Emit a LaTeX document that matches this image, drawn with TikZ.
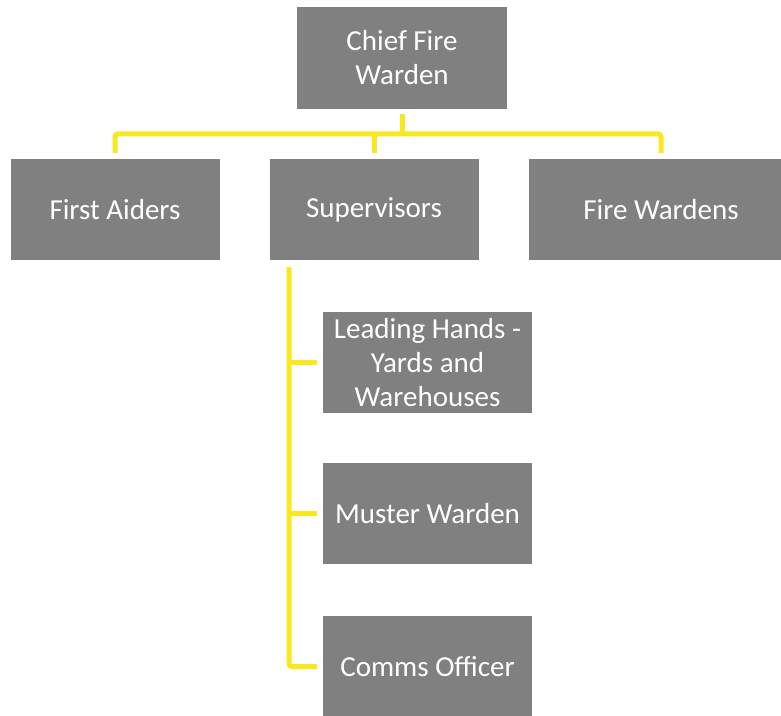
\documentclass[tikz,border=0pt]{standalone}
\usepackage{fontspec}
\setmainfont{Carlito}
\usepackage{tikz}
\usetikzlibrary{positioning}
\definecolor{boxgray}{RGB}{128,128,128}
\definecolor{lineyellow}{RGB}{249,232,32}

\begin{document}
\begin{tikzpicture}[x=1pt,y=-1pt,
    orgbox/.style={fill=boxgray, text=white, inner sep=0pt, align=center,
      minimum width=209pt, minimum height=101pt,
      font=\fontsize{29}{34}\selectfont},
    link/.style={draw=lineyellow, line width=5pt}]
            \useasboundingbox (0,0) rectangle (781,715);

            \node[orgbox, minimum width=210pt, minimum height=102pt] (chief) at (402,58) {Chief Fire\\Warden};
            \node[orgbox] (aiders) at (115,209.5) {First Aiders};
            \node[orgbox, text depth=4pt] (sup) at (374,209.5) {Supervisors};
            \node[orgbox, minimum width=264pt] (wardens) at (661,209.5) {Fire Wardens};

            \node[orgbox] (lead) at (427.5,362.5) {Leading Hands -\\Yards and\\Warehouses};
            \node[orgbox] (muster) at (427.5,513.5) {Muster Warden};
            \node[orgbox] (comms) at (427.5,666.5) {Comms Officer};

            \draw[link] ([yshift=-5pt]chief.south) -- ++(0,20);
            \draw[link, rounded corners=3pt] ([yshift=6pt]aiders.north) |- ([yshift=25pt]sup.north)
                -| ([yshift=6pt]wardens.north);
            \draw[link] ([yshift=6pt]sup.north) -- ++(0,-19);

            \draw[link, rounded corners=3pt] ([xshift=-85pt,yshift=-7pt]sup.south) |- ([xshift=-6pt]comms.west);
            \draw[link] ([xshift=-6pt]lead.west) -- ++(-28,0);
            \draw[link] ([xshift=-6pt]muster.west) -- ++(-28,0);
        \end{tikzpicture}
\end{document}
